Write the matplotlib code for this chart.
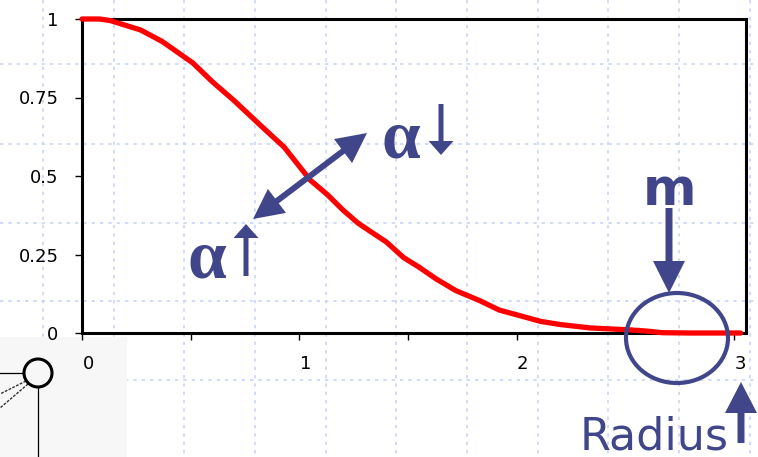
import numpy as np
import matplotlib
matplotlib.use("Agg")
import matplotlib.pyplot as plt
from matplotlib.patches import Ellipse, Circle, Rectangle, FancyArrow
from matplotlib.transforms import ScaledTranslation

# curve values (radius -> weight)
radius = [0.00, 0.08, 0.13, 0.20, 0.27, 0.37, 0.51, 0.60, 0.70, 0.82, 0.93,
          1.05, 1.13, 1.20, 1.27, 1.33, 1.40, 1.48, 1.55, 1.63, 1.72, 1.83,
          1.92, 2.00, 2.11, 2.20, 2.34, 2.52, 2.60, 2.67, 2.80, 3.03]
weight = [1.000, 1.000, 0.995, 0.980, 0.965, 0.928, 0.860, 0.800, 0.740, 0.662, 0.592,
          0.487, 0.440, 0.392, 0.350, 0.322, 0.290, 0.240, 0.210, 0.172, 0.135, 0.103,
          0.073, 0.058, 0.037, 0.027, 0.016, 0.010, 0.006, 0.001, 0.000, 0.000]
x_ticks = [0, 1, 2, 3]
x_minor = [0.5, 1.5, 2.5]
y_ticks = [0, 0.25, 0.5, 0.75, 1]
y_labels = ['0', '0.25', '0.5', '0.75', '1']

W, H = 758, 457
blue = '#41468b'
grid_c = '#c9d5f7'

fig = plt.figure(figsize=(W / 100, H / 100), dpi=100)

# slide background: dotted grid + corner of the network diagram
bg = fig.add_axes([0, 0, 1, 1], zorder=0)
bg.set_xlim(0, W)
bg.set_ylim(H, 0)
bg.axis('off')
for gx in np.arange(43, W, 70.65):
    bg.plot([gx, gx], [0, H], color=grid_c, lw=1.2, ls=(0, (2, 3)))
for gy in [64, 144, 223, 301, 380]:
    bg.plot([0, W], [gy, gy], color=grid_c, lw=1.2, ls=(0, (2, 3)))
bg.add_patch(Rectangle((0, 337), 127, 120, facecolor='#f7f7f7', edgecolor='none', zorder=3))
bg.plot([0, 24], [373, 373], color='black', lw=0.9, zorder=4)
bg.plot([26, 0], [381, 394], color='#333333', lw=1.0, ls=(0, (2, 1)), zorder=4)
bg.plot([28, 0], [384, 408], color='#333333', lw=1.0, ls=(0, (2, 1)), zorder=4)
bg.plot([38, 38], [387, H], color='black', lw=0.9, zorder=4)
bg.add_patch(Circle((38, 373), 14, facecolor='#f7f7f7', edgecolor='black', lw=2.2, zorder=5))

# main plot
ax = fig.add_axes([82 / W, (H - 333) / H, 664 / W, 314 / H], zorder=1)
ax.patch.set_alpha(0)
ax.plot(radius, weight, color='#ff0000', lw=3.8, zorder=3, clip_on=False,
        solid_capstyle='round')
ax.set_xlim(0, 3.055)
ax.set_ylim(0, 1)
ax.set_xticks(x_ticks)
ax.set_xticks(x_minor, minor=True)
ax.set_yticks(y_ticks)
ax.set_yticklabels(y_labels)
for s in ax.spines.values():
    s.set_linewidth(2.2)
    s.set_color('black')
ax.tick_params(axis='both', which='both', direction='out', length=5, width=1,
               labelsize=13, color='black')
ax.tick_params(axis='x', pad=11)
ax.tick_params(axis='y', pad=12)
for lab in ax.get_xticklabels() + ax.get_yticklabels():
    lab.set_family('DejaVu Sans')
for lab in ax.get_xticklabels():
    lab.set_transform(lab.get_transform() + ScaledTranslation(0.06, 0, fig.dpi_scale_trans))

# annotations layer
ov = fig.add_axes([0, 0, 1, 1], zorder=2)
ov.set_xlim(0, W)
ov.set_ylim(H, 0)
ov.axis('off')


def arrow(x0, y0, x1, y1, width, hw, hl):
    ov.add_patch(FancyArrow(x0, y0, x1 - x0, y1 - y0, width=width, head_width=hw,
                            head_length=hl, length_includes_head=True,
                            color=blue, lw=0))


# double arrow across the curve
mx, my = 310, 176
arrow(mx, my, 367, 133, 6, 30, 30)
arrow(mx, my, 253, 219, 6, 30, 30)

# alpha labels
ov.text(381, 157, 'α', color=blue, fontsize=50, fontweight='bold',
        family='Liberation Serif', ha='left', va='baseline')
arrow(441, 104, 441, 155, 5, 25, 14)
ov.text(187, 277, 'α', color=blue, fontsize=50, fontweight='bold',
        family='Liberation Serif', ha='left', va='baseline')
arrow(246, 276, 246, 224, 5, 25, 14)

# m pointing at the tail
ov.text(670, 205, 'm', color=blue, fontsize=37, fontweight='bold',
        family='DejaVu Sans', ha='center', va='baseline')
arrow(669, 208, 669, 293, 7, 32, 32)
ov.add_patch(Ellipse((677, 338), 102, 90, fill=False, edgecolor=blue, lw=3))

# Radius axis hint
ov.text(580, 449, 'Radius', color=blue, fontsize=32, family='DejaVu Sans',
        ha='left', va='baseline')
arrow(741, 443, 741, 382, 7, 32, 31)

fig.savefig('out.png', dpi=100)
